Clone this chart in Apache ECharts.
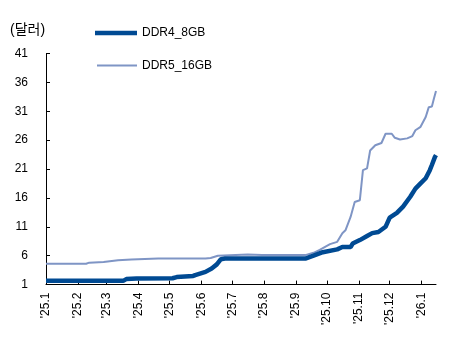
<!DOCTYPE html>
<html>
<head>
<meta charset="utf-8">
<script src="https://cdn.jsdelivr.net/npm/echarts@6/dist/echarts.min.js"></script>
<style>
html,body{margin:0;padding:0;background:#fff;}
#c{width:462px;height:342px;}
</style>
</head>
<body>
<div id="c"></div>
<script>
// Axis range (daily categories)
var startDate = '2025-01-01';
var endDate = '2026-01-15';
var yTicks = [1, 6, 11, 16, 21, 26, 31, 36, 41];
var seriesNames = ['DDR4_8GB', 'DDR5_16GB'];

// DDR4_8GB (dollars)
var ddr4Dates = ['2025-01-01','2025-03-17','2025-03-20','2025-03-30','2025-05-04','2025-05-08','2025-05-24','2025-05-26','2025-06-05','2025-06-11','2025-06-16','2025-06-20','2025-06-24','2025-09-10','2025-09-18','2025-09-27','2025-10-11','2025-10-16','2025-10-24','2025-10-26','2025-11-02','2025-11-09','2025-11-14','2025-11-20','2025-11-27','2025-12-01','2025-12-08','2025-12-14','2025-12-21','2025-12-26','2025-12-31','2026-01-05','2026-01-09','2026-01-11','2026-01-14','2026-01-15'];
var ddr4Values = [1.65,1.65,1.95,2.05,2.1,2.3,2.5,2.65,3.2,3.8,4.5,5.4,5.5,5.5,6.0,6.6,7.1,7.5,7.5,8.1,8.7,9.4,9.9,10.1,11.0,12.6,13.4,14.5,16.2,17.6,18.5,19.4,20.8,21.7,23.1,23.4];

// DDR5_16GB (dollars)
var ddr5Dates = ['2025-01-01','2025-02-09','2025-02-12','2025-02-26','2025-03-12','2025-03-25','2025-04-20','2025-05-21','2025-06-05','2025-06-10','2025-06-17','2025-07-16','2025-07-30','2025-09-10','2025-09-18','2025-09-24','2025-10-04','2025-10-11','2025-10-16','2025-10-19','2025-10-24','2025-10-28','2025-11-02','2025-11-05','2025-11-09','2025-11-12','2025-11-17','2025-11-23','2025-11-27','2025-12-03','2025-12-06','2025-12-11','2025-12-18','2025-12-23','2025-12-26','2025-12-31','2026-01-05','2026-01-08','2026-01-11','2026-01-13','2026-01-15'];
var ddr5Values = [4.6,4.6,4.8,4.9,5.2,5.35,5.5,5.5,5.5,5.6,6.0,6.2,6.1,6.1,6.5,7.0,8.0,8.4,9.9,10.4,12.7,15.3,15.6,20.8,21.1,24.2,25.1,25.5,27.1,27.1,26.4,26.1,26.3,26.7,27.7,28.3,30.0,31.7,31.8,33.2,34.5];

function fmt(d){
  var m = d.getUTCMonth()+1, day = d.getUTCDate();
  return d.getUTCFullYear()+'-'+(m<10?'0':'')+m+'-'+(day<10?'0':'')+day;
}
var categories = [];
(function(){
  var d = new Date(startDate+'T00:00:00Z'), e = new Date(endDate+'T00:00:00Z');
  while (d <= e) { categories.push(fmt(d)); d = new Date(d.getTime()+86400000); }
})();
function toSeries(dates, values){
  var arr = categories.map(function(){ return null; });
  dates.forEach(function(dt, i){ var idx = categories.indexOf(dt); if (idx >= 0) arr[idx] = values[i]; });
  return arr;
}
function isMonthStart(idx, val){ return val.slice(8,10) === '01'; }

var FONT = '"Liberation Sans", Arial, "Noto Sans CJK KR", sans-serif';
var C4 = '#004a93', C5 = '#7f95c5';

var chart = echarts.init(document.getElementById('c'), null, {renderer:'canvas'});
chart.setOption({
  animation: false,
  backgroundColor: '#fff',
  textStyle: {fontFamily: FONT},
  title: {
    text: '(달러)', left: 5, top: 18,
    textStyle: {fontFamily: FONT, fontSize: 14, fontWeight: 'normal', color: '#000'}
  },
  legend: [
    {data: [seriesNames[0]], left: 95, top: 26, padding: 0, icon: 'rect', itemWidth: 42, itemHeight: 4.5,
     textStyle: {fontFamily: FONT, fontSize: 12, color: '#000', lineHeight: 14}},
    {data: [seriesNames[1]], left: 97, top: 58.5, padding: 0, icon: 'rect', itemWidth: 40, itemHeight: 2,
     textStyle: {fontFamily: FONT, fontSize: 12, color: '#000', lineHeight: 14}}
  ],
  grid: {left: 46, right: 26, top: 53.4, bottom: 57.4, containLabel: false},
  xAxis: {
    type: 'category',
    data: categories,
    boundaryGap: false,
    axisLine: {show: true, lineStyle: {color: '#000', width: 1}},
    axisTick: {show: true, inside: true, length: 4, interval: isMonthStart, lineStyle: {color: '#000'}},
    axisLabel: {
      interval: isMonthStart, rotate: 90, margin: 8,
      fontFamily: FONT, fontSize: 12, color: '#000',
      formatter: function(v){ return "'" + v.slice(2,4) + '.' + parseInt(v.slice(5,7),10); }
    },
    splitLine: {show: false}
  },
  yAxis: {
    type: 'value', min: 1, max: 41,
    axisLine: {show: true, lineStyle: {color: '#000', width: 1}},
    axisTick: {show: true, inside: true, length: 4, customValues: yTicks, lineStyle: {color: '#000'}},
    axisLabel: {customValues: yTicks, margin: 18, fontFamily: FONT, fontSize: 12, color: '#000'},
    splitLine: {show: false}
  },
  series: [
    {name: seriesNames[0], type: 'line', data: toSeries(ddr4Dates, ddr4Values), connectNulls: true,
     symbol: 'none', z: 3, lineStyle: {color: C4, width: 4.5}, itemStyle: {color: C4}},
    {name: seriesNames[1], type: 'line', data: toSeries(ddr5Dates, ddr5Values), connectNulls: true,
     symbol: 'none', z: 2, lineStyle: {color: C5, width: 2}, itemStyle: {color: C5}}
  ]
});
</script>
</body>
</html>
